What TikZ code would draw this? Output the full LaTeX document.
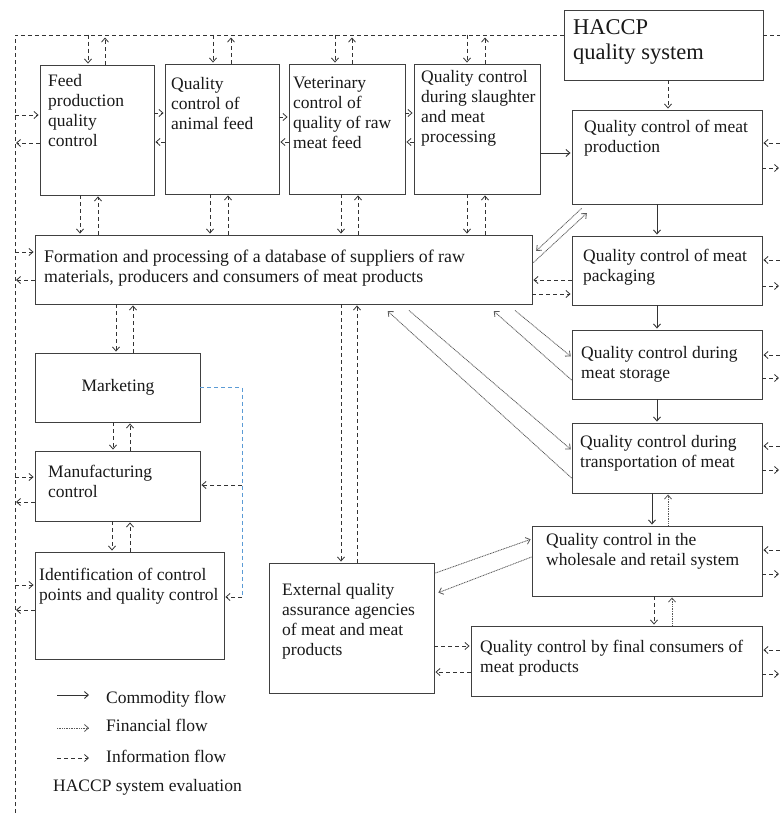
\documentclass[tikz,border=0pt]{standalone}
\usepackage{fontspec}
\setmainfont{Liberation Serif}
\usetikzlibrary{arrows.meta}
\begin{document}
\begin{tikzpicture}[x=1pt,y=-1pt,
  bx/.style={draw=black!75, line width=0.9pt, inner sep=0pt},
  txt/.style={inner sep=0pt, align=left, font=\fontsize{17.5}{20}\selectfont, text=black!90},
  tipp/.style={-{Straight Barb[length=4pt,width=7pt]}},
  comm/.style={draw=black!80, line width=0.9pt, tipp, shorten >=1pt},
  fin/.style={draw=black!65, line width=0.8pt, dash pattern=on 1pt off 0.7pt, tipp, shorten >=1pt},
  info/.style={draw=black!80, line width=0.8pt, dash pattern=on 4pt off 3pt, tipp, shorten >=1pt},
  frame/.style={draw=black!80, line width=0.8pt, dash pattern=on 4pt off 3pt},
  blueline/.style={draw={rgb,255:red,91;green,155;blue,213}, line width=0.8pt, dash pattern=on 4pt off 3pt},
]
\useasboundingbox (0,0) rectangle (779,813);
\fill[white] (0,0) rectangle (779,813);

% boxes
\node[bx,minimum width=199pt,minimum height=70pt] (haccp) at (663.5,45) {};
\node[bx,minimum width=114pt,minimum height=130pt] (feed) at (97,130) {};
\node[bx,minimum width=114pt,minimum height=130pt] (afeed) at (222,129) {};
\node[bx,minimum width=116pt,minimum height=130pt] (vet) at (347,129) {};
\node[bx,minimum width=126pt,minimum height=130pt] (slau) at (477,129) {};
\node[bx,minimum width=497pt,minimum height=69pt] (db) at (283.5,269.5) {};
\node[bx,minimum width=190pt,minimum height=94pt] (mprod) at (667,157) {};
\node[bx,minimum width=190pt,minimum height=69pt] (pack) at (667,270.5) {};
\node[bx,minimum width=190pt,minimum height=69pt] (stor) at (667,364.5) {};
\node[bx,minimum width=190pt,minimum height=70pt] (trans) at (667,458) {};
\node[bx,minimum width=230pt,minimum height=70pt] (whole) at (647,561) {};
\node[bx,minimum width=291pt,minimum height=70pt] (cons) at (616.5,661) {};
\node[bx,minimum width=165pt,minimum height=130pt] (ext) at (351.5,628) {};
\node[bx,minimum width=165pt,minimum height=69pt] (mkt) at (117.5,387.5) {};
\node[bx,minimum width=165pt,minimum height=70pt] (manu) at (117.5,486) {};
\node[bx,minimum width=189pt,minimum height=107pt] (ident) at (129.5,605.5) {};

% texts (base anchor = baseline of the last line)
\node[txt,anchor=base west,font=\fontsize{22.5}{25}\selectfont] (haccpT) at (573,60) {HACCP\\quality system};
\node[txt,anchor=base west] (feedT) at (48,147) {Feed\\production\\quality\\control};
\node[txt,anchor=base west] (afeedT) at (171,130) {Quality\\control of\\animal feed};
\node[txt,anchor=base west] (vetT) at (293,149) {Veterinary\\control of\\quality of raw\\meat feed};
\node[txt,anchor=base west] (slauT) at (421,143) {Quality control\\during slaughter\\and meat\\processing};
\node[txt,anchor=base west,font=\fontsize{17.8}{20}\selectfont] (dbT) at (44,282) {Formation and processing of a database of suppliers of raw\\materials, producers and consumers of meat products};
\node[txt,anchor=base west] (mprodT) at (584,153) {Quality control of meat\\production};
\node[txt,anchor=base west] (packT) at (583,281) {Quality control of meat\\packaging};
\node[txt,anchor=base west] (storT) at (581,378) {Quality control during\\meat storage};
\node[txt,anchor=base west] (transT) at (580,467) {Quality control during\\transportation of meat};
\node[txt,anchor=base west] (wholeT) at (546,565) {Quality control in the\\wholesale and retail system};
\node[txt,anchor=base west] (consT) at (480,672) {Quality control by final consumers of\\meat products};
\node[txt,anchor=base west] (extT) at (282,655) {External quality\\assurance agencies\\of meat and meat\\products};
\node[txt,anchor=base] (mktT) at (118,391.5) {Marketing};
\node[txt,anchor=base west] (manuT) at (48,497) {Manufacturing\\control};
\node[txt,anchor=base west] (identT) at (39,600) {Identification of control\\points and quality control};

% outer frame
\coordinate (ftl) at (15,35);
\coordinate (fbl) at (15,813);
\coordinate (ftr) at (780,35);
\draw[frame] (fbl) -- (ftl) -- (ftl -| haccp.west);
\draw[frame] (haccp.east |- ftl) -- (ftr);

% frame to top row
\draw[info] ([xshift=-9pt,yshift=30pt]feed.north) -- ([xshift=-9pt]feed.north);
\draw[info] ([xshift=8pt]feed.north) -- ([xshift=8pt,yshift=28pt]feed.north);
\draw[info] ([xshift=-9pt,yshift=29pt]afeed.north) -- ([xshift=-9pt]afeed.north);
\draw[info] ([xshift=9pt]afeed.north) -- ([xshift=9pt,yshift=27pt]afeed.north);
\draw[info] ([xshift=-12pt,yshift=29pt]vet.north) -- ([xshift=-12pt]vet.north);
\draw[info] ([xshift=5pt]vet.north) -- ([xshift=5pt,yshift=27pt]vet.north);
\draw[info] ([xshift=-10pt,yshift=29pt]slau.north) -- ([xshift=-10pt]slau.north);
\draw[info] ([xshift=8pt]slau.north) -- ([xshift=8pt,yshift=27pt]slau.north);

% top row to database
\draw[info] ([xshift=-17pt]feed.south) -- ([xshift=-203.5pt]db.north);
\draw[info] ([xshift=-185.5pt]db.north) -- ([xshift=1pt]feed.south);
\draw[info] ([xshift=-12pt]afeed.south) -- ([xshift=-73.5pt]db.north);
\draw[info] ([xshift=-55.5pt]db.north) -- ([xshift=6pt]afeed.south);
\draw[info] ([xshift=-6pt]vet.south) -- ([xshift=57.5pt]db.north);
\draw[info] ([xshift=74.5pt]db.north) -- ([xshift=11pt]vet.south);
\draw[info] ([xshift=-10pt]slau.south) -- ([xshift=183.5pt]db.north);
\draw[info] ([xshift=201.5pt]db.north) -- ([xshift=8pt]slau.south);

% between top boxes
\draw[info] ([yshift=17pt]feed.east) -- ([yshift=16pt]afeed.west);
\draw[info] ([yshift=-13pt]afeed.west) -- ([yshift=-12pt]feed.east);
\draw[info] ([yshift=12pt]afeed.east) -- ([yshift=12pt]vet.west);
\draw[info] ([yshift=-13pt]vet.west) -- ([yshift=-13pt]afeed.east);
\draw[info] ([yshift=16pt]vet.east) -- ([yshift=16pt]slau.west);
\draw[info] ([yshift=-13pt]slau.west) -- ([yshift=-13pt]vet.east);

% commodity chain
\draw[comm] ([yshift=-24pt]slau.east) -- ([yshift=4pt]mprod.west);
\draw[comm] ([xshift=-10pt]mprod.south) -- ([xshift=-10pt]pack.north);
\draw[comm] ([xshift=-10pt]pack.south) -- ([xshift=-10pt]stor.north);
\draw[comm] ([xshift=-10pt]stor.south) -- ([xshift=-10pt]trans.north);
\draw[comm] ([xshift=-15pt]trans.south) -- ([xshift=5pt]whole.north);
\draw[fin] ([xshift=21pt]whole.north) -- ([xshift=1pt]trans.south);
\draw[info] ([xshift=4.5pt]haccp.south) -- ([xshift=1pt]mprod.north);
\draw[info] ([xshift=7pt]whole.south) -- ([xshift=37.5pt]cons.north);
\draw[fin] ([xshift=55.5pt]cons.north) -- ([xshift=25pt]whole.south);

% packaging - database
\draw[info] ([yshift=-9.5pt]pack.west) -- ([yshift=-10.5pt]db.east);
\draw[info] ([yshift=-24.5pt]db.east) -- ([yshift=-23.5pt]pack.west);

% financial diagonals
\draw[fin] ([xshift=10pt,yshift=-4pt]mprod.south west) -- ([xshift=3pt,yshift=-17pt]db.north east);
\draw[fin] ([xshift=1pt,yshift=-28pt]db.north east) -- ([xshift=16pt,yshift=-8pt]mprod.south west);
\draw[fin] ([yshift=-15.5pt]stor.west) -- ([xshift=209.5pt,yshift=-6pt]db.south);
\draw[fin] ([xshift=231.5pt,yshift=-6pt]db.south) -- ([yshift=7.5pt]stor.west);
\draw[fin] ([yshift=-20pt]trans.west) -- ([xshift=103.5pt,yshift=-6pt]db.south);
\draw[fin] ([xshift=125.5pt,yshift=-6pt]db.south) -- ([yshift=8pt]trans.west);

% external agencies
\draw[info] ([xshift=57.5pt]db.south) -- ([xshift=-10.5pt]ext.north);
\draw[info] ([xshift=5.5pt]ext.north) -- ([xshift=73.5pt]db.south);
\draw[fin] ([xshift=1pt,yshift=55pt]ext.east) -- ([yshift=22pt]whole.west);
\draw[fin] ([yshift=4pt]whole.west) -- ([xshift=3pt,yshift=35pt]ext.east);
\draw[info] ([yshift=-18pt]ext.east) -- ([yshift=15pt]cons.west);
\draw[info] ([yshift=-11pt]cons.west) -- ([yshift=-44pt]ext.east);

% left column
\draw[info] ([xshift=-167.5pt]db.south) -- ([xshift=-1.5pt]mkt.north);
\draw[info] ([xshift=15.5pt]mkt.north) -- ([xshift=-150.5pt]db.south);
\draw[info] ([xshift=-4.5pt]mkt.south) -- ([xshift=-4.5pt]manu.north);
\draw[info] ([xshift=12.5pt]manu.north) -- ([xshift=12.5pt]mkt.south);
\draw[info] ([xshift=-5.5pt]manu.south) -- ([xshift=-17.5pt]ident.north);
\draw[info] ([xshift=0.5pt]ident.north) -- ([xshift=12.5pt]manu.south);

% blue evaluation line
\coordinate (bj1) at (242,485);
\coordinate (bj2) at (242,597);
\draw[blueline] (mkt.east) -| (bj2);
\draw[info] (bj1) -- ([yshift=1pt]manu.east);
\draw[info] (bj2) -- ([yshift=8.5pt]ident.east);

% left frame arrows
\coordinate (lf1) at (15,115); \coordinate (lf2) at (15,143);
\coordinate (lf3) at (15,252); \coordinate (lf4) at (15,280);
\coordinate (lf5) at (15,477); \coordinate (lf6) at (15,502);
\coordinate (lf7) at (15,585); \coordinate (lf8) at (15,610);
\draw[info] (lf1) -- ([yshift=15pt]feed.west);
\draw[info] ([yshift=-13pt]feed.west) -- (lf2);
\draw[info] (lf3) -- ([yshift=17.5pt]db.west);
\draw[info] ([yshift=-10.5pt]db.west) -- (lf4);
\draw[info] (lf5) -- ([yshift=9pt]manu.west);
\draw[info] ([yshift=-16pt]manu.west) -- (lf6);
\draw[info] (lf7) -- ([yshift=20.5pt]ident.west);
\draw[info] ([yshift=-4.5pt]ident.west) -- (lf8);

% right edge arrows
\coordinate (rf1) at (780,143); \coordinate (rf2) at (780,168);
\coordinate (rf3) at (780,260); \coordinate (rf4) at (780,286);
\coordinate (rf5) at (780,355); \coordinate (rf6) at (780,378);
\coordinate (rf7) at (780,446); \coordinate (rf8) at (780,470);
\coordinate (rf9) at (780,550); \coordinate (rf10) at (780,574);
\coordinate (rf11) at (780,650); \coordinate (rf12) at (780,674);
\draw[info] (rf1) -- ([yshift=14pt]mprod.east);
\draw[info] ([yshift=-11pt]mprod.east) -- (rf2);
\draw[info] (rf3) -- ([yshift=10.5pt]pack.east);
\draw[info] ([yshift=-15.5pt]pack.east) -- (rf4);
\draw[info] (rf5) -- ([yshift=9.5pt]stor.east);
\draw[info] ([yshift=-13.5pt]stor.east) -- (rf6);
\draw[info] (rf7) -- ([yshift=12pt]trans.east);
\draw[info] ([yshift=-12pt]trans.east) -- (rf8);
\draw[info] (rf9) -- ([yshift=11pt]whole.east);
\draw[info] ([yshift=-13pt]whole.east) -- (rf10);
\draw[info] (rf11) -- ([yshift=11pt]cons.east);
\draw[info] ([yshift=-13pt]cons.east) -- (rf12);

% legend
\coordinate (la1) at (57,695); \coordinate (lb1) at (90,695);
\coordinate (la2) at (57,728); \coordinate (lb2) at (90,728);
\coordinate (la3) at (57,758); \coordinate (lb3) at (90,758);
\draw[comm] (la1) -- (lb1);
\draw[fin] (la2) -- (lb2);
\draw[info] (la3) -- (lb3);
\node[txt,anchor=base west] (lt1) at (106,703) {Commodity flow};
\node[txt,anchor=base west] (lt2) at (106,731.5) {Financial flow};
\node[txt,anchor=base west] (lt3) at (106,762) {Information flow};
\node[txt,anchor=base west] (lt4) at (53,791.5) {HACCP system evaluation};
\end{tikzpicture}
\end{document}
